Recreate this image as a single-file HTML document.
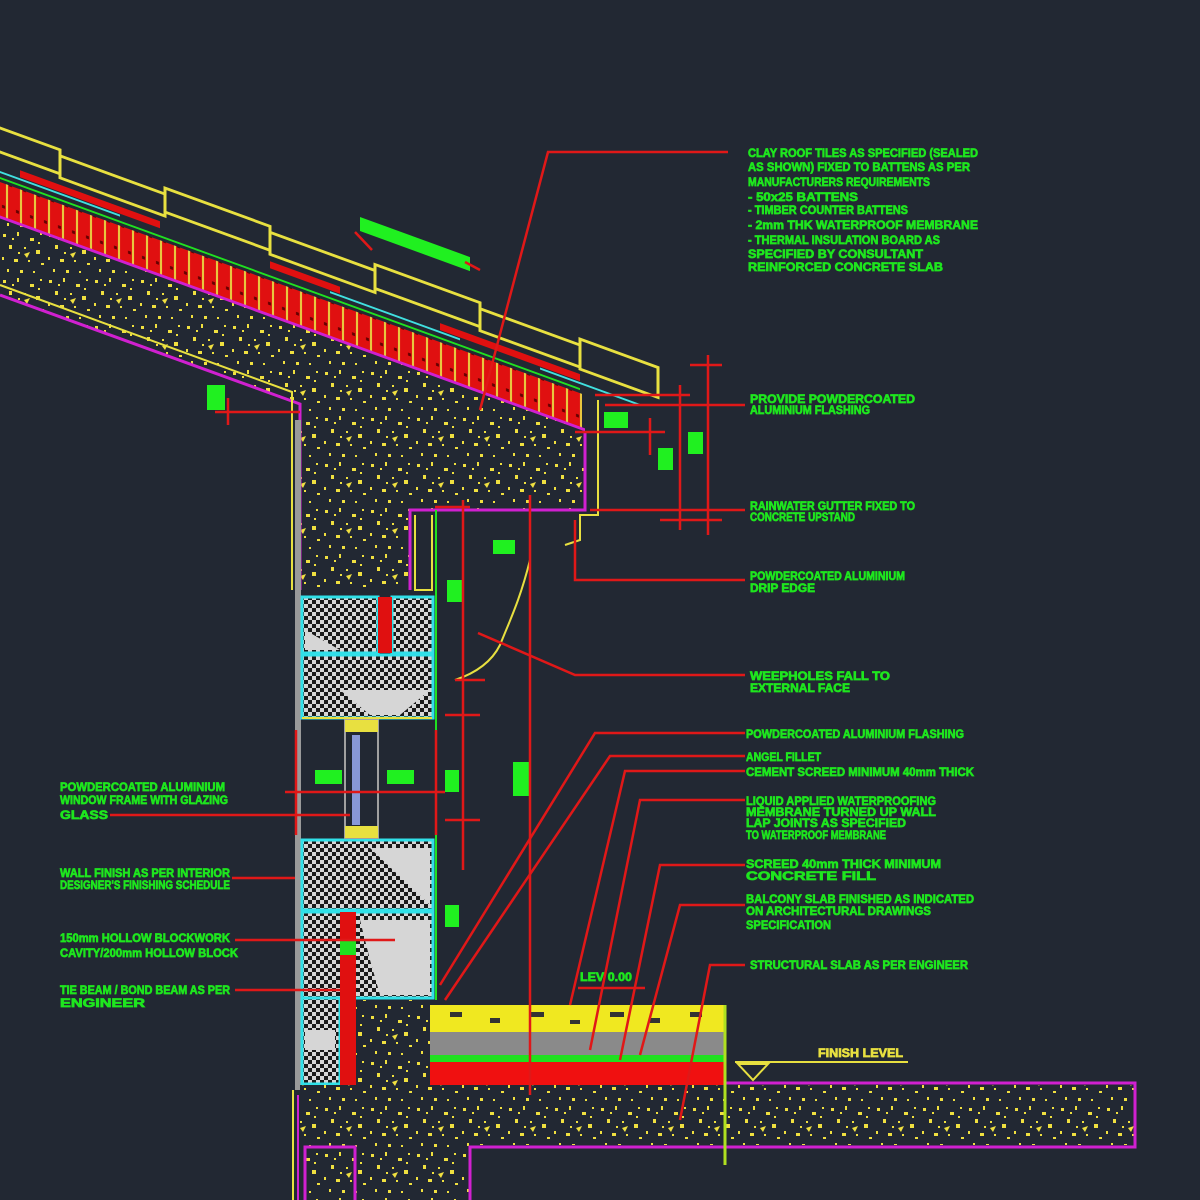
<!DOCTYPE html>
<html><head><meta charset="utf-8"><style>
html,body{margin:0;padding:0;background:#222833;}
svg{display:block}
text{font-family:"Liberation Sans",sans-serif;font-weight:bold;fill:#1ee61e;font-size:12px;stroke:#1ee61e;stroke-width:0.7}
</style></head><body>
<svg width="1200" height="1200" viewBox="0 0 1200 1200" xmlns="http://www.w3.org/2000/svg">
<defs>
<pattern id="conc" width="46" height="46" patternUnits="userSpaceOnUse">
<rect width="46" height="46" fill="#222833"/>
<g fill="#f0e040">
<rect x="3" y="4" width="3" height="3"/><rect x="17" y="2" width="2" height="4"/><rect x="30" y="8" width="4" height="3"/>
<rect x="40" y="3" width="2" height="2"/><rect x="9" y="15" width="3" height="4"/><rect x="24" y="17" width="2" height="2"/>
<rect x="36" y="20" width="4" height="4"/><rect x="2" y="27" width="2" height="3"/><rect x="14" y="29" width="4" height="3"/>
<rect x="28" y="30" width="2" height="2"/><rect x="41" y="33" width="3" height="2"/><rect x="7" y="39" width="2" height="3"/>
<rect x="20" y="40" width="3" height="3"/><rect x="33" y="41" width="2" height="2"/><polygon points="24,24 30,22 27,28"/>
<rect x="12" y="8" width="2" height="2"/><rect x="38" y="12" width="2" height="2"/><rect x="18" y="22" width="2" height="2"/>
</g></pattern>
<pattern id="dots" width="8" height="8" patternUnits="userSpaceOnUse">
<rect width="8" height="8" fill="#d6d6d6"/><rect x="0" y="0" width="4" height="4" fill="#1a1a1a"/><rect x="4" y="4" width="4" height="4" fill="#1a1a1a"/>
</pattern>
<pattern id="bat" width="14" height="40" patternUnits="userSpaceOnUse">
<rect width="14" height="40" fill="#e01010"/><rect x="6" width="2" height="40" fill="#e8d040"/><rect x="2" y="4" width="3" height="3" fill="#600"/><rect x="9" y="20" width="3" height="3" fill="#600"/>
</pattern>
</defs>
<rect width="1200" height="1200" fill="#222833"/>

<polygon points="0,218 585,431 585,510 410,510 410,590 300,590 300,404 0,295" fill="url(#conc)"/>
<polyline points="0,295 300,404 300,590" fill="none" stroke="#d020d0" stroke-width="3"/>
<polyline points="0,285 292,392 292,590" fill="none" stroke="#e8e040" stroke-width="2"/>
<polyline points="585,431 585,510 410,510 410,590" fill="none" stroke="#d020d0" stroke-width="3"/>
<polyline points="598,400 598,515 580,515 580,540 565,545" fill="none" stroke="#e8e040" stroke-width="2"/>

<g transform="skewY(20)">
<rect x="0" y="182" width="582" height="34" fill="url(#bat)"/>
<line x1="0" y1="217" x2="585" y2="217" stroke="#d020d0" stroke-width="3"/>
<line x1="0" y1="178" x2="580" y2="178" stroke="#20e020" stroke-width="2"/>
<g fill="#e01010">
<rect x="20" y="163" width="140" height="7"/><rect x="270" y="163" width="70" height="7"/><rect x="440" y="163" width="140" height="7"/>
</g>
<g fill="none" stroke="#e8e040" stroke-width="3">
<rect x="-10" y="128" width="70" height="24"/><rect x="60" y="134" width="105" height="22"/><rect x="165" y="128" width="105" height="24"/>
<rect x="270" y="134" width="105" height="22"/><rect x="375" y="128" width="105" height="24"/><rect x="480" y="134" width="100" height="22"/>
<rect x="580" y="128" width="78" height="30"/>
</g>
<line x1="0" y1="172" x2="120" y2="172" stroke="#40e0e0" stroke-width="2"/>
<line x1="330" y1="172" x2="460" y2="172" stroke="#40e0e0" stroke-width="2"/>
<line x1="540" y1="172" x2="640" y2="172" stroke="#40e0e0" stroke-width="2"/>
<rect x="360" y="86" width="110" height="14" fill="#20f020"/>
</g>

<rect x="295" y="420" width="6" height="670" fill="#9a9a9a"/>
<line x1="293" y1="1090" x2="293" y2="1200" stroke="#e8e040" stroke-width="2"/>
<line x1="298" y1="1095" x2="298" y2="1200" stroke="#d020d0" stroke-width="2"/>

<polyline points="415,515 415,590 432,590 432,515" fill="none" stroke="#e8e040" stroke-width="2"/>
<polyline points="436,510 436,1000" fill="none" stroke="#20e020" stroke-width="2"/>
<path d="M530,560 C520,600 510,620 500,645 C490,665 470,675 455,680" fill="none" stroke="#e8e040" stroke-width="2"/>

<g stroke="#30e0e8" stroke-width="3">
<rect x="302" y="597" width="76" height="56" fill="url(#dots)"/>
<rect x="392" y="597" width="41" height="56" fill="url(#dots)"/>
<rect x="302" y="655" width="131" height="63" fill="url(#dots)"/>
<rect x="302" y="840" width="131" height="70" fill="url(#dots)"/>
<rect x="302" y="912" width="131" height="86" fill="url(#dots)"/>
<rect x="302" y="998" width="38" height="86" fill="url(#dots)"/>
</g>
<g fill="#d6d6d6">
<polygon points="305,630 340,650 305,650"/><polygon points="340,690 430,690 400,715 370,715"/>
<polygon points="370,848 430,848 430,905"/><polygon points="360,920 430,920 430,995 380,995 370,960"/>
<rect x="305" y="1030" width="30" height="20"/>
</g>
<rect x="378" y="597" width="14" height="56" fill="#e01010"/>
<rect x="340" y="912" width="16" height="173" fill="#e01010"/>
<rect x="340" y="940" width="16" height="15" fill="#20e020"/>
<rect x="356" y="1000" width="76" height="85" fill="url(#conc)"/>
<rect x="345" y="720" width="33" height="118" fill="none" stroke="#a0a0a0" stroke-width="2"/>
<rect x="352" y="735" width="8" height="90" fill="#8898d8"/>
<rect x="345" y="720" width="33" height="12" fill="#e8e040"/>
<rect x="345" y="826" width="33" height="12" fill="#e8e040"/>
<line x1="302" y1="718" x2="432" y2="718" stroke="#e8e040" stroke-width="2"/>

<rect x="430" y="1005" width="295" height="27" fill="#f0e820"/>
<g fill="#333">
<rect x="450" y="1012" width="12" height="5"/><rect x="490" y="1018" width="10" height="5"/><rect x="530" y="1012" width="14" height="5"/><rect x="570" y="1020" width="10" height="4"/><rect x="610" y="1012" width="14" height="5"/><rect x="650" y="1018" width="10" height="5"/><rect x="690" y="1012" width="12" height="5"/>
</g>
<rect x="430" y="1032" width="295" height="23" fill="#8a8a8a"/>
<rect x="430" y="1055" width="295" height="7" fill="#20e020"/>
<rect x="430" y="1062" width="295" height="23" fill="#f01010"/>
<rect x="300" y="1085" width="835" height="60" fill="url(#conc)"/>
<rect x="305" y="1145" width="165" height="55" fill="url(#conc)"/>
<polyline points="725,1083 1135,1083 1135,1147 470,1147 470,1200" fill="none" stroke="#d020d0" stroke-width="3"/>
<polyline points="305,1200 305,1147 355,1147 355,1200" fill="none" stroke="#d020d0" stroke-width="3"/>
<line x1="725" y1="1005" x2="725" y2="1165" stroke="#b0e020" stroke-width="3"/>
<polyline points="735,1062 908,1062" stroke="#e8e040" stroke-width="2"/>
<polygon points="738,1064 768,1064 753,1080" fill="none" stroke="#e8e040" stroke-width="2"/>
<text x="818" y="1057" textLength="85" lengthAdjust="spacingAndGlyphs" style="fill:#e8e040;stroke:#e8e040">FINISH LEVEL</text>
<text x="580" y="981" textLength="52" lengthAdjust="spacingAndGlyphs">LEV 0.00</text>

<g fill="#20f020">
<rect x="207" y="385" width="18" height="25"/><rect x="604" y="412" width="24" height="16"/><rect x="658" y="448" width="15" height="22"/>
<rect x="688" y="432" width="15" height="22"/><rect x="493" y="540" width="22" height="14"/><rect x="447" y="580" width="15" height="22"/>
<rect x="513" y="762" width="16" height="34"/><rect x="445" y="770" width="14" height="22"/><rect x="315" y="770" width="27" height="14"/>
<rect x="387" y="770" width="27" height="14"/><rect x="445" y="905" width="14" height="22"/>
</g>

<g stroke="#e01818" stroke-width="2.5" fill="none">
<polyline points="728,152 548,152 480,410"/>
<line x1="680" y1="385" x2="680" y2="530"/><line x1="708" y1="355" x2="708" y2="535"/>
<line x1="690" y1="365" x2="722" y2="365"/><line x1="595" y1="395" x2="690" y2="395"/>
<line x1="605" y1="405" x2="745" y2="405"/><line x1="575" y1="432" x2="665" y2="432"/>
<line x1="650" y1="418" x2="650" y2="455"/>
<line x1="590" y1="510" x2="745" y2="510"/><line x1="660" y1="520" x2="722" y2="520"/>
<polyline points="575,520 575,580 745,580"/>
<line x1="463" y1="500" x2="463" y2="870"/><line x1="530" y1="495" x2="530" y2="1095"/>
<line x1="435" y1="507" x2="470" y2="507"/><line x1="455" y1="680" x2="485" y2="680"/>
<line x1="445" y1="715" x2="480" y2="715"/><line x1="445" y1="820" x2="480" y2="820"/>
<polyline points="478,633 575,675 745,675"/>
<polyline points="745,733 595,733 440,985"/>
<polyline points="745,756 610,756 445,1000"/>
<polyline points="745,771 625,771 570,1005"/>
<polyline points="745,800 640,800 590,1050"/>
<polyline points="745,865 660,865 620,1060"/>
<polyline points="745,905 680,905 640,1055"/>
<polyline points="745,965 710,965 680,1120"/>
<line x1="578" y1="988" x2="645" y2="988"/>
<line x1="296" y1="730" x2="296" y2="835"/><line x1="436" y1="730" x2="436" y2="835"/>
<line x1="285" y1="792" x2="445" y2="792"/>
<line x1="110" y1="815" x2="350" y2="815"/>
<line x1="232" y1="878" x2="295" y2="878"/>
<line x1="235" y1="940" x2="395" y2="940"/>
<line x1="235" y1="990" x2="340" y2="990"/>
<line x1="228" y1="398" x2="228" y2="425"/><line x1="215" y1="412" x2="300" y2="412"/>
<line x1="355" y1="232" x2="372" y2="250"/><line x1="465" y1="262" x2="480" y2="270"/>
</g>

<text x="748" y="157" textLength="230" lengthAdjust="spacingAndGlyphs">CLAY ROOF TILES AS SPECIFIED (SEALED</text>
<text x="748" y="171" textLength="222" lengthAdjust="spacingAndGlyphs">AS SHOWN) FIXED TO BATTENS AS PER</text>
<text x="748" y="186" textLength="182" lengthAdjust="spacingAndGlyphs">MANUFACTURERS REQUIREMENTS</text>
<text x="748" y="201" textLength="110" lengthAdjust="spacingAndGlyphs">- 50x25 BATTENS</text>
<text x="748" y="214" textLength="160" lengthAdjust="spacingAndGlyphs">- TIMBER COUNTER BATTENS</text>
<text x="748" y="229" textLength="230" lengthAdjust="spacingAndGlyphs">- 2mm THK WATERPROOF MEMBRANE</text>
<text x="748" y="244" textLength="192" lengthAdjust="spacingAndGlyphs">- THERMAL INSULATION BOARD AS</text>
<text x="748" y="258" textLength="175" lengthAdjust="spacingAndGlyphs">SPECIFIED BY CONSULTANT</text>
<text x="748" y="271" textLength="195" lengthAdjust="spacingAndGlyphs">REINFORCED CONCRETE SLAB</text>

<text x="750" y="403" textLength="165" lengthAdjust="spacingAndGlyphs">PROVIDE POWDERCOATED</text>
<text x="750" y="414" textLength="120" lengthAdjust="spacingAndGlyphs">ALUMINIUM FLASHING</text>
<text x="750" y="510" textLength="165" lengthAdjust="spacingAndGlyphs">RAINWATER GUTTER FIXED TO</text>
<text x="750" y="521" textLength="105" lengthAdjust="spacingAndGlyphs">CONCRETE UPSTAND</text>
<text x="750" y="580" textLength="155" lengthAdjust="spacingAndGlyphs">POWDERCOATED ALUMINIUM</text>
<text x="750" y="592" textLength="65" lengthAdjust="spacingAndGlyphs">DRIP EDGE</text>
<text x="750" y="680" textLength="140" lengthAdjust="spacingAndGlyphs">WEEPHOLES FALL TO</text>
<text x="750" y="692" textLength="100" lengthAdjust="spacingAndGlyphs">EXTERNAL FACE</text>
<text x="746" y="738" textLength="218" lengthAdjust="spacingAndGlyphs">POWDERCOATED ALUMINIUM FLASHING</text>
<text x="746" y="761" textLength="75" lengthAdjust="spacingAndGlyphs">ANGEL FILLET</text>
<text x="746" y="776" textLength="228" lengthAdjust="spacingAndGlyphs">CEMENT SCREED MINIMUM 40mm THICK</text>
<text x="746" y="805" textLength="190" lengthAdjust="spacingAndGlyphs">LIQUID APPLIED WATERPROOFING</text>
<text x="746" y="816" textLength="190" lengthAdjust="spacingAndGlyphs">MEMBRANE TURNED UP WALL</text>
<text x="746" y="827" textLength="160" lengthAdjust="spacingAndGlyphs">LAP JOINTS AS SPECIFIED</text>
<text x="746" y="839" textLength="140" lengthAdjust="spacingAndGlyphs">TO WATERPROOF MEMBRANE</text>
<text x="746" y="868" textLength="195" lengthAdjust="spacingAndGlyphs">SCREED 40mm THICK MINIMUM</text>
<text x="746" y="880" textLength="130" lengthAdjust="spacingAndGlyphs">CONCRETE FILL</text>
<text x="746" y="903" textLength="228" lengthAdjust="spacingAndGlyphs">BALCONY SLAB FINISHED AS INDICATED</text>
<text x="746" y="915" textLength="185" lengthAdjust="spacingAndGlyphs">ON ARCHITECTURAL DRAWINGS</text>
<text x="746" y="929" textLength="85" lengthAdjust="spacingAndGlyphs">SPECIFICATION</text>
<text x="750" y="969" textLength="218" lengthAdjust="spacingAndGlyphs">STRUCTURAL SLAB AS PER ENGINEER</text>

<text x="60" y="791" textLength="165" lengthAdjust="spacingAndGlyphs">POWDERCOATED ALUMINIUM</text>
<text x="60" y="804" textLength="168" lengthAdjust="spacingAndGlyphs">WINDOW FRAME WITH GLAZING</text>
<text x="60" y="819" textLength="48" lengthAdjust="spacingAndGlyphs">GLASS</text>
<text x="60" y="877" textLength="170" lengthAdjust="spacingAndGlyphs">WALL FINISH AS PER INTERIOR</text>
<text x="60" y="889" textLength="170" lengthAdjust="spacingAndGlyphs">DESIGNER'S FINISHING SCHEDULE</text>
<text x="60" y="942" textLength="170" lengthAdjust="spacingAndGlyphs">150mm HOLLOW BLOCKWORK</text>
<text x="60" y="957" textLength="178" lengthAdjust="spacingAndGlyphs">CAVITY/200mm HOLLOW BLOCK</text>
<text x="60" y="994" textLength="170" lengthAdjust="spacingAndGlyphs">TIE BEAM / BOND BEAM AS PER</text>
<text x="60" y="1007" textLength="85" lengthAdjust="spacingAndGlyphs">ENGINEER</text>
</svg>
</body></html>
